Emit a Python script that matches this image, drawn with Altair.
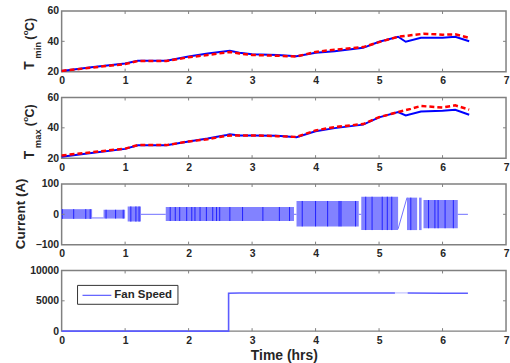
import altair as alt
import pandas as pd

# ---------------- data ----------------
X_TICKS = [0, 1, 2, 3, 4, 5, 6, 7]

tmin_blue_t = [0, 0.5, 1.0, 1.2, 1.65, 2.0, 2.3, 2.65, 2.8, 3.0, 3.4, 3.7, 4.0, 4.3, 4.75, 5.0, 5.3, 5.42, 5.66, 6.0, 6.2, 6.42]
tmin_blue_v = [20.5, 23, 25.4, 27.2, 27.2, 30, 32, 33.8, 32.5, 31.5, 31, 30.2, 32.5, 33.5, 35.7, 39.7, 43, 39.7, 42.3, 42.3, 43, 40.1]
tmin_red_t = [0, 0.5, 1.0, 1.2, 1.65, 2.0, 2.3, 2.65, 2.8, 3.0, 3.4, 3.7, 4.0, 4.3, 4.75, 5.0, 5.3, 5.5, 5.7, 6.0, 6.2, 6.42]
tmin_red_v = [20.5, 22.8, 25, 27, 27, 29.5, 31, 33, 32, 31, 30.5, 30, 33, 34.5, 36.2, 39.5, 43, 44, 45, 44.4, 44.6, 42.3]

tmax_blue_t = [0, 0.5, 1.0, 1.2, 1.65, 2.0, 2.3, 2.6, 2.65, 2.8, 3.0, 3.4, 3.7, 4.0, 4.3, 4.75, 5.0, 5.3, 5.42, 5.66, 6.0, 6.2, 6.42]
tmax_blue_v = [20.9, 23.5, 26.1, 28.5, 28.5, 31, 33, 35.3, 35.8, 35, 35, 34.8, 33.8, 37.7, 39.8, 42.1, 46.9, 50.4, 48.2, 50.8, 51.3, 51.9, 48.6]
tmax_red_t = [0, 0.5, 1.0, 1.2, 1.65, 2.0, 2.3, 2.6, 2.8, 3.0, 3.4, 3.7, 4.0, 4.3, 4.75, 5.0, 5.3, 5.5, 5.66, 6.0, 6.2, 6.42]
tmax_red_v = [21.8, 24, 26.3, 28.6, 28.6, 31, 32.5, 34.8, 35, 35, 34.5, 34, 38.3, 40.5, 42.5, 47, 50.4, 52.5, 54.4, 53.4, 54.8, 52]

# current: switching bursts (start, end, high, low)
blk_start = [0.00, 0.66, 1.04, 1.64, 3.70, 4.72, 5.44, 5.63, 5.70]
blk_end = [0.48, 1.00, 1.25, 3.66, 4.68, 5.30, 5.60, 5.67, 6.24]
blk_hi = [17, 15, 26, 24, 44, 58, 55, 55, 47]
blk_lo = [-15, -14, -24, -22, -40, -52, -52, -52, -46]
dark_x = [0.01, 0.19, 0.38, 0.45, 0.70, 0.85, 0.97, 1.09, 1.17, 1.22,
          1.71, 1.79, 1.86, 1.97, 2.05, 2.10, 2.18, 2.28, 2.38, 2.44, 2.49, 2.65, 2.85, 3.17, 3.43, 3.59,
          3.79, 4.00, 4.19, 4.37, 4.40, 4.63, 4.79, 4.89, 5.05, 5.13, 5.20, 5.50, 5.62,
          5.78, 5.88, 5.93, 6.04, 6.17]
seg_x1 = [0.48, 1.25, 3.66, 4.68, 5.30, 6.24]
seg_y1 = [-12, 0, 0, 0, -48, 0]
seg_x2 = [0.66, 1.64, 3.70, 4.72, 5.44, 6.40]
seg_y2 = [-12, 0, 0, 0, 55, 0]

fan_t = [0, 2.63, 2.63, 2.8, 3.5, 4.2, 4.9, 5.25]
fan_v = [0, 0, 6250, 6300, 6300, 6300, 6300, 6300]
fan_gap_t = [5.25, 5.45]
fan_gap_v = [6300, 6300]
fan2_t = [5.45, 6.0, 6.40]
fan2_v = [6300, 6250, 6250]

TMIN_Y = [20, 40, 60]
TMAX_Y = [20, 40, 60]
CUR_Y = [-100, 0, 100]
FAN_Y = [0, 5000, 10000]

# ---------------- styling ----------------
W, H = 447, 61
FONT = "Liberation Sans"
TXT = "#262626"
FRAME = "#808080"
BLUE = "#0000ff"
RED = "#ff0000"

xscale = alt.Scale(domain=[0, 7], nice=False, zero=False)


def xaxis(last=False):
    kw = dict(values=X_TICKS, format="d", ticks=False, domain=False, grid=False,
              labelFlush=False, labelPadding=4, labelOverlap=False)
    if last:
        kw.update(title="Time (hrs)", titlePadding=3, titleFontSize=14,
                  titleFontWeight="bold", titleFont=FONT, titleColor=TXT)
    else:
        kw.update(title=None)
    return alt.Axis(**kw)


def yaxis(vals):
    return alt.Axis(values=vals, format="d", ticks=False, domain=False, grid=False,
                    labelPadding=3, labelOverlap=False, labelFlush=False, title=None)


def tick_layers(yvals, yscale, xa, ya):
    xt = pd.DataFrame({"x": X_TICKS[1:-1]})
    yt = pd.DataFrame({"y": yvals[1:-1]})
    xenc = alt.X("x:Q", scale=xscale, axis=xa)
    yenc = alt.Y("y:Q", scale=yscale, axis=ya)
    base_x = alt.Chart(xt).mark_rule(color=FRAME, strokeWidth=1)
    base_y = alt.Chart(yt).mark_rule(color=FRAME, strokeWidth=1)
    return [
        base_x.encode(x=xenc, y=alt.value(0), y2=alt.value(3)),
        base_x.encode(x=xenc, y=alt.value(H - 3), y2=alt.value(H)),
        base_y.encode(y=yenc, x=alt.value(0), x2=alt.value(3)),
        base_y.encode(y=yenc, x=alt.value(W - 3), x2=alt.value(W)),
    ]


one = pd.DataFrame({"a": [0]})


def anchor(y):
    # invisible rule that pins the page extent (left 61px, right 2px margins)
    return alt.Chart(one).mark_rule(opacity=0, strokeWidth=1).encode(
        x=alt.value(-60.5), x2=alt.value(W + 1.5), y=alt.value(y))


def rot_text(txt, x, y, size, align="left"):
    return alt.Chart(one).mark_text(
        text=txt, angle=270, align=align, baseline="middle", font=FONT,
        fontWeight="bold", fontSize=size, color=TXT
    ).encode(x=alt.value(x), y=alt.value(y))


def temp_panel(bt, bv, rt, rv, yvals, sub, tb, subb, degb, extra=()):
    ys = alt.Scale(domain=[yvals[0], yvals[-1]], nice=False, zero=False)
    xa, ya = xaxis(), yaxis(yvals)
    blue = alt.Chart(pd.DataFrame({"t": bt, "v": bv})).mark_line(color=BLUE, strokeWidth=2).encode(
        x=alt.X("t:Q", scale=xscale, axis=xa),
        y=alt.Y("v:Q", scale=ys, axis=ya))
    red = alt.Chart(pd.DataFrame({"t": rt, "v": rv})).mark_line(
        color=RED, strokeWidth=2.5, strokeDash=[5, 3]).encode(
        x=alt.X("t:Q", scale=xscale, axis=xa),
        y=alt.Y("v:Q", scale=ys, axis=ya))
    titles = [
        rot_text("T", -31.5, tb, 14),
        rot_text(sub, -24, subb, 9.5),
        rot_text("(", -31.5, degb, 12.5),
        rot_text("o", -35.5, degb - 4.5, 8),
        rot_text("C)", -31.5, degb - 9, 12.5),
    ]
    return alt.layer(blue, red, *tick_layers(yvals, ys, xa, ya), *titles, *extra).properties(width=W, height=H)


p1 = temp_panel(tmin_blue_t, tmin_blue_v, tmin_red_t, tmin_red_v, TMIN_Y, "min", 59, 48, 29,
                extra=(anchor(-8.5),))
p2 = temp_panel(tmax_blue_t, tmax_blue_v, tmax_red_t, tmax_red_v, TMAX_Y, "max", 62, 51, 29)

# current panel
cys = alt.Scale(domain=[-100, 100], nice=False, zero=False)
cxa, cya = xaxis(), yaxis(CUR_Y)
blocks = pd.DataFrame({"s": blk_start, "e": blk_end, "hi": blk_hi, "lo": blk_lo})
dk = []
for xv in dark_x:
    for s, e, hi, lo in zip(blk_start, blk_end, blk_hi, blk_lo):
        if s <= xv <= e:
            dk.append({"x": xv, "hi": hi, "lo": lo})
            break
dark = pd.DataFrame(dk)
segs = pd.DataFrame({"x1": seg_x1, "y1": seg_y1, "x2": seg_x2, "y2": seg_y2})

cur_blocks = alt.Chart(blocks).mark_rect(color="#8282ff").encode(
    x=alt.X("s:Q", scale=xscale, axis=cxa), x2="e:Q",
    y=alt.Y("hi:Q", scale=cys, axis=cya), y2="lo:Q")
cur_dark = alt.Chart(dark).mark_rule(color="#2020ff", strokeWidth=1).encode(
    x=alt.X("x:Q", scale=xscale, axis=cxa),
    y=alt.Y("hi:Q", scale=cys, axis=cya), y2="lo:Q")
cur_segs = alt.Chart(segs).mark_rule(color="#7070ff", strokeWidth=1).encode(
    x=alt.X("x1:Q", scale=xscale, axis=cxa), x2="x2:Q",
    y=alt.Y("y1:Q", scale=cys, axis=cya), y2="y2:Q")
cur_title = alt.Chart(one).mark_text(
    text="Current (A)", angle=270, align="center", baseline="middle", font=FONT,
    fontWeight="bold", fontSize=13.5, color=TXT).encode(x=alt.value(-41), y=alt.value(30))
p3 = alt.layer(cur_blocks, cur_segs, cur_dark, *tick_layers(CUR_Y, cys, cxa, cya),
               cur_title).properties(width=W, height=H)

# fan speed panel
fys = alt.Scale(domain=[0, 10000], nice=False, zero=False)
fxa, fya = xaxis(last=True), yaxis(FAN_Y)
fan1 = alt.Chart(pd.DataFrame({"t": fan_t, "v": fan_v})).mark_line(color="#5c5cff", strokeWidth=1.6).encode(
    x=alt.X("t:Q", scale=xscale, axis=fxa),
    y=alt.Y("v:Q", scale=fys, axis=fya))
fan_gap = alt.Chart(pd.DataFrame({"t": fan_gap_t, "v": fan_gap_v})).mark_line(
    color="#5c5cff", strokeWidth=1, opacity=0.45).encode(
    x=alt.X("t:Q", scale=xscale, axis=fxa), y=alt.Y("v:Q", scale=fys, axis=fya))
fan2 = alt.Chart(pd.DataFrame({"t": fan2_t, "v": fan2_v})).mark_line(color="#5c5cff", strokeWidth=1.6).encode(
    x=alt.X("t:Q", scale=xscale, axis=fxa), y=alt.Y("v:Q", scale=fys, axis=fya))
leg_box = alt.Chart(one).mark_rect(fill="white", stroke="#333333", strokeWidth=1).encode(
    x=alt.value(16), x2=alt.value(117), y=alt.value(15), y2=alt.value(34))
leg_line = alt.Chart(one).mark_rule(color="#5c5cff", strokeWidth=1.2).encode(
    x=alt.value(21), x2=alt.value(50), y=alt.value(25))
leg_text = alt.Chart(one).mark_text(
    text="Fan Speed", align="left", baseline="middle", font=FONT, fontWeight="bold",
    fontSize=11.5, color=TXT).encode(x=alt.value(53), y=alt.value(25))
p4 = alt.layer(fan1, fan_gap, fan2, *tick_layers(FAN_Y, fys, fxa, fya), leg_box, leg_line, leg_text,
               anchor(H + 31.5)).properties(width=W, height=H)

chart = alt.vconcat(p1, p2, p3, p4, spacing=26, bounds="flush").properties(
    padding=0,
    background="white",
).configure_view(
    stroke=FRAME, strokeWidth=1.5
).configure_axis(
    labelFont=FONT, labelFontWeight="bold", labelFontSize=10.5, labelColor=TXT
)

chart.save("out.html", embed_options={"renderer": "svg", "actions": False})
